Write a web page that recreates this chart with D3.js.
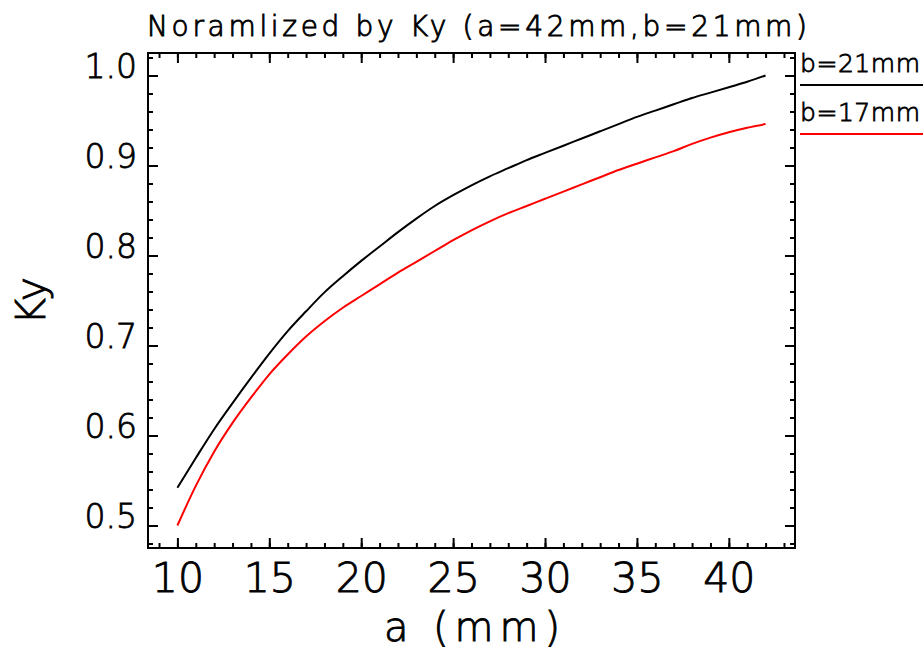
<!DOCTYPE html>
<html>
<head>
<meta charset="utf-8">
<script src="https://cdn.jsdelivr.net/npm/d3@7"></script>
<style>
  body { margin: 0; background: #fff; }
  svg { display: block; }
  text { font-family: "DejaVu Sans", sans-serif; fill: #000; stroke: #000; }
</style>
</head>
<body>
<div id="chart"></div>
<script>
// Data
const aValues = d3.range(10, 43);
const ky21 = [0.542, 0.575, 0.607, 0.636, 0.664, 0.691, 0.716, 0.738, 0.759, 0.777,
              0.794, 0.810, 0.826, 0.841, 0.855, 0.867, 0.878, 0.888, 0.897, 0.906,
              0.914, 0.922, 0.930, 0.938, 0.946, 0.954, 0.961, 0.968, 0.975, 0.981,
              0.987, 0.993, 1.000];
const ky17 = [0.500, 0.544, 0.582, 0.614, 0.642, 0.668, 0.690, 0.710, 0.727, 0.742,
              0.755, 0.768, 0.781, 0.793, 0.805, 0.817, 0.828, 0.838, 0.847, 0.855,
              0.863, 0.871, 0.879, 0.887, 0.895, 0.902, 0.909, 0.916, 0.924, 0.931,
              0.937, 0.942, 0.946];
const xMajorTicks = [10, 15, 20, 25, 30, 35, 40];
const xMinorTicks = d3.range(9, 44);
const yMajorTicks = [0.5, 0.6, 0.7, 0.8, 0.9, 1.0];
const yMinorTicks = d3.range(0.48, 1.021, 0.02);
const seriesNames = ["b=21mm", "b=17mm"];
const seriesColors = ["#000000", "#ff0000"];

const svgWidth = 923;
const svgHeight = 653;
const margin = { top: 53, right: 128, bottom: 105, left: 148 };
const width = svgWidth - margin.left - margin.right;
const height = svgHeight - margin.top - margin.bottom;

const svg = d3.select("#chart")
    .append("svg")
    .attr("width", svgWidth)
    .attr("height", svgHeight);

const chartGroup = svg.append("g")
    .attr("transform", `translate(${margin.left}, ${margin.top})`);

// Scales (IDL-style 5% padding)
const xScale = d3.scaleLinear().domain([8.4, 43.6]).range([0, width]);
const yScale = d3.scaleLinear().domain([0.475, 1.025]).range([height, 0]);

// Helper to style tick groups
function styleAxis(g) {
    g.select(".domain").remove();
    g.selectAll("line").attr("stroke", "#000").attr("stroke-width", 2);
}

// Bottom axis: major ticks with labels, minor ticks
chartGroup.append("g")
    .attr("transform", `translate(0, ${height})`)
    .call(d3.axisBottom(xScale).tickValues(xMinorTicks).tickFormat("").tickSizeInner(-5).tickSizeOuter(0))
    .call(styleAxis);

chartGroup.append("g")
    .attr("transform", `translate(0, ${height})`)
    .call(d3.axisBottom(xScale).tickValues(xMajorTicks).tickFormat(d3.format("d"))
        .tickSizeInner(-10).tickSizeOuter(0).tickPadding(15))
    .call(styleAxis)
    .selectAll("text")
    .attr("font-size", 41)
    .attr("font-weight", 200)
    .attr("stroke-width", 0.9);

// Top axis: ticks only
chartGroup.append("g")
    .call(d3.axisTop(xScale).tickValues(xMinorTicks).tickFormat("").tickSizeInner(-5).tickSizeOuter(0))
    .call(styleAxis);
chartGroup.append("g")
    .call(d3.axisTop(xScale).tickValues(xMajorTicks).tickFormat("").tickSizeInner(-10).tickSizeOuter(0))
    .call(styleAxis);

// Left axis
chartGroup.append("g")
    .call(d3.axisLeft(yScale).tickValues(yMinorTicks).tickFormat("").tickSizeInner(-5).tickSizeOuter(0))
    .call(styleAxis);

chartGroup.append("g")
    .call(d3.axisLeft(yScale).tickValues(yMajorTicks).tickFormat(d3.format(".1f"))
        .tickSizeInner(-10).tickSizeOuter(0).tickPadding(11))
    .call(styleAxis)
    .selectAll("text")
    .attr("font-size", 33)
    .attr("dy", "0.05em")
    .attr("font-weight", 200)
    .attr("stroke-width", 0.8);

// Right axis
chartGroup.append("g")
    .attr("transform", `translate(${width}, 0)`)
    .call(d3.axisRight(yScale).tickValues(yMinorTicks).tickFormat("").tickSizeInner(-5).tickSizeOuter(0))
    .call(styleAxis);
chartGroup.append("g")
    .attr("transform", `translate(${width}, 0)`)
    .call(d3.axisRight(yScale).tickValues(yMajorTicks).tickFormat("").tickSizeInner(-10).tickSizeOuter(0))
    .call(styleAxis);

// Frame
chartGroup.append("rect")
    .attr("width", width)
    .attr("height", height)
    .attr("fill", "none")
    .attr("stroke", "#000")
    .attr("stroke-width", 2);

// Curves
const line = d3.line()
    .x((d, i) => xScale(aValues[i]))
    .y(d => yScale(d))
    .curve(d3.curveMonotoneX);

[ky21, ky17].forEach((series, i) => {
    chartGroup.append("path")
        .datum(series)
        .attr("fill", "none")
        .attr("stroke", seriesColors[i])
        .attr("stroke-width", 2)
        .attr("d", line);
});

// Title
svg.append("text")
    .attr("x", 147)
    .attr("y", 36)
    .attr("font-size", 28)
    .attr("font-weight", 200)
    .attr("stroke-width", 0.9)
    .attr("textLength", 660)
    .attr("lengthAdjust", "spacing")
    .text("Noramlized by Ky (a=42mm,b=21mm)");

// Axis titles
svg.append("text")
    .attr("x", 384)
    .attr("y", 641)
    .attr("font-size", 40)
    .attr("font-weight", 200)
    .attr("stroke-width", 0.9)
    .attr("textLength", 176)
    .attr("lengthAdjust", "spacing")
    .text("a (mm)");

svg.append("text")
    .attr("transform", "translate(45, 301) rotate(-90)")
    .attr("text-anchor", "middle")
    .attr("font-size", 41)
    .attr("font-weight", 200)
    .attr("stroke-width", 0.9)
    .text("Ky");

// Legend
const legendY = [72, 121];
seriesNames.forEach((name, i) => {
    svg.append("text")
        .attr("x", 800)
        .attr("y", legendY[i])
        .attr("font-size", 25)
        .attr("font-weight", 200)
        .attr("stroke-width", 0.8)
        .attr("textLength", 120)
        .attr("lengthAdjust", "spacing")
        .text(name);
    svg.append("line")
        .attr("x1", 800)
        .attr("x2", 923)
        .attr("y1", legendY[i] + 13)
        .attr("y2", legendY[i] + 13)
        .attr("stroke", seriesColors[i])
        .attr("stroke-width", 2);
});
</script>
</body>
</html>
